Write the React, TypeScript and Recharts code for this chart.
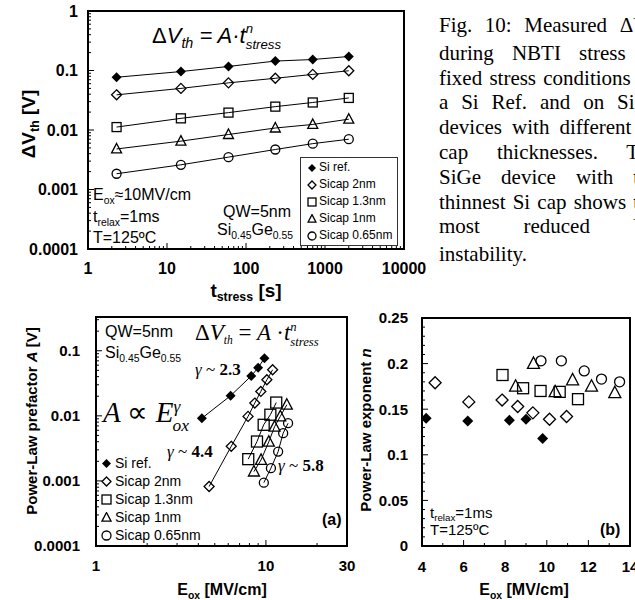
import React from 'react';
import { ScatterChart, Scatter, XAxis, YAxis, ReferenceArea } from 'recharts';

const SANS = '"Liberation Sans", Arial, sans-serif';
const SERIF = '"Liberation Serif", "Times New Roman", serif';

// top panel: dVth vs stress time
const tStress = [2.3, 15, 60, 235, 700, 2000];
const dvSiRef = [0.077, 0.096, 0.117, 0.144, 0.153, 0.172];
const dvCap2 = [0.039, 0.05, 0.062, 0.074, 0.086, 0.099];
const dvCap13 = [0.0112, 0.0157, 0.0196, 0.0247, 0.029, 0.0346];
const dvCap1 = [0.0048, 0.0065, 0.0084, 0.0108, 0.0124, 0.0152];
const dvCap065 = [0.00184, 0.0026, 0.0035, 0.0047, 0.0059, 0.007];

// panels (a) and (b): Eox, prefactor A, exponent n per device
const eSiRef = [4.2, 6.2, 8.2, 9.0, 9.8];
const aSiRef = [0.0092, 0.0204, 0.041, 0.055, 0.077];
const nSiRef = [0.14, 0.137, 0.138, 0.139, 0.118];
const eCap2 = [4.63, 6.25, 7.85, 8.6, 9.33, 10.13, 10.95];
const aCap2 = [0.00082, 0.0034, 0.0098, 0.0157, 0.0237, 0.0358, 0.051];
const nCap2 = [0.179, 0.158, 0.16, 0.153, 0.146, 0.139, 0.142];
const eCap13 = [7.87, 8.86, 9.7, 10.62, 11.5];
const aCap13 = [0.00216, 0.00403, 0.00728, 0.0104, 0.016];
const nCap13 = [0.1875, 0.173, 0.17, 0.169, 0.161];
const eCap1 = [8.5, 9.36, 10.4, 11.24, 12.15, 13.27];
const aCap1 = [0.00139, 0.0021, 0.004, 0.0068, 0.0098, 0.0148];
const nCap1 = [0.175, 0.2, 0.169, 0.182, 0.175, 0.168];
const eCap065 = [9.72, 10.7, 11.8, 12.63, 13.5];
const aCap065 = [0.00094, 0.00157, 0.00282, 0.00542, 0.0077];
const nCap065 = [0.203, 0.203, 0.192, 0.183, 0.18];

const seriesNames = ['Si ref.', 'Sicap 2nm', 'Sicap 1.3nm', 'Sicap 1nm', 'Sicap 0.65nm'];
const markKinds = ['diamondFill', 'diamond', 'square', 'triangle', 'circle'];

// tick labels
const topXTicks = [1, 10, 100, 1000, 10000];
const topYTicks = [0.0001, 0.001, 0.01, 0.1, 1];
const aXTicks = [1, 10, 30];
const aYTicks = [0.0001, 0.001, 0.01, 0.1];
const bXTicks = [4, 6, 8, 10, 12, 14];
const bYTicks = [0, 0.05, 0.1, 0.15, 0.2, 0.25];

const captionLines = [
  'Fig. 10: Measured \u0394V|th',
  'during NBTI stress at',
  'fixed stress conditions on',
  'a Si Ref. and on SiGe',
  'devices with different Si',
  'cap thicknesses. The',
  'SiGe device with the',
  'thinnest Si cap shows the',
  'most reduced V|th',
  'instability.',
];

const pts = (xs: number[], ys: number[]) => xs.map((x, i) => ({ x, y: ys[i] }));

const topSeries = [dvSiRef, dvCap2, dvCap13, dvCap1, dvCap065].map((ys) => pts(tStress, ys));
const aSeries = [
  pts(eSiRef, aSiRef), pts(eCap2, aCap2), pts(eCap13, aCap13), pts(eCap1, aCap1), pts(eCap065, aCap065),
];
const bSeries = [
  pts(eSiRef, nSiRef), pts(eCap2, nCap2), pts(eCap13, nCap13), pts(eCap1, nCap1), pts(eCap065, nCap065),
];

// all log ticks (1..9 per decade) between lo and hi
function logTicks(lo: number, hi: number) {
  const out: number[] = [];
  for (let d = lo; d <= hi * 1.0001; d *= 10) {
    for (let k = 1; k < 10; k++) if (d * k <= hi * 1.0001) out.push(d * k);
  }
  return out;
}
function linTicks(lo: number, hi: number, step: number) {
  const out: number[] = [];
  for (let i = 0; lo + i * step <= hi + 1e-9; i++) out.push(+(lo + i * step).toFixed(6));
  return out;
}
const isMajor = (v: number, majors: number[]) =>
  majors.some((m) => Math.abs(m - v) <= 1e-9 + 1e-6 * Math.abs(m));

function Mark({ cx, cy, kind, size }: any) {
  const h = size / 2;
  const sw = 1.3;
  if (cx == null || cy == null) return null;
  switch (kind) {
    case 'diamondFill':
      return <polygon points={`${cx},${cy - h} ${cx + h},${cy} ${cx},${cy + h} ${cx - h},${cy}`} fill="#000" />;
    case 'diamond':
      return <polygon points={`${cx},${cy - h} ${cx + h},${cy} ${cx},${cy + h} ${cx - h},${cy}`} fill="none" stroke="#000" strokeWidth={sw} />;
    case 'square':
      return <rect x={cx - h} y={cy - h} width={size} height={size} fill="none" stroke="#000" strokeWidth={sw} />;
    case 'triangle':
      return <polygon points={`${cx},${cy - size * 0.55} ${cx + h},${cy + size * 0.4} ${cx - h},${cy + size * 0.4}`} fill="none" stroke="#000" strokeWidth={sw} />;
    default:
      return <circle cx={cx} cy={cy} r={h} fill="none" stroke="#000" strokeWidth={sw} />;
  }
}

function XTick({ x, y, payload, majors, fs, off }: any) {
  const major = isMajor(payload.value, majors);
  return (
    <g>
      <line x1={x} x2={x} y1={y} y2={y - (major ? 6 : 3)} stroke="#000" strokeWidth={1} />
      {major && (
        <text x={x} y={y + off} textAnchor="middle" fontFamily={SANS} fontWeight="bold" fontSize={fs} fill="#000">
          {String(payload.value)}
        </text>
      )}
    </g>
  );
}

function YTick({ x, y, payload, majors, fs, off }: any) {
  const major = isMajor(payload.value, majors);
  return (
    <g>
      <line x1={x} x2={x + (major ? 6 : 3)} y1={y} y2={y} stroke="#000" strokeWidth={1} />
      {major && (
        <text x={x - off} y={y} dy="0.36em" textAnchor="end" fontFamily={SANS} fontWeight="bold" fontSize={fs} fill="#000">
          {String(payload.value)}
        </text>
      )}
    </g>
  );
}

const Sub = ({ children, size = 0.65, dy = 0.35 }: any) => (
  <span style={{ fontSize: `${size}em`, position: 'relative', top: `${dy}em` }}>{children}</span>
);
const Sup = ({ children, size = 0.65, dy = -0.75, ml = 0 }: any) => (
  <span style={{ fontSize: `${size}em`, position: 'relative', top: `${dy}em`, marginLeft: ml }}>{children}</span>
);

function Txt({ left, top, fs, children, family = SANS, style = {} }: any) {
  return (
    <div style={{ position: 'absolute', left, top, fontFamily: family, fontSize: fs, lineHeight: 1, whiteSpace: 'nowrap', ...style }}>
      {children}
    </div>
  );
}

function RotTitle({ cx, cy, fs, children }: any) {
  return (
    <div style={{
      position: 'absolute', left: cx, top: cy, transform: 'translate(-50%, -50%) rotate(-90deg)',
      fontFamily: SANS, fontWeight: 'bold', fontSize: fs, lineHeight: 1, whiteSpace: 'nowrap',
    }}>
      {children}
    </div>
  );
}

function CenterTitle({ cx, cy, fs, children }: any) {
  return (
    <div style={{
      position: 'absolute', left: cx, top: cy, transform: 'translate(-50%, -50%)',
      fontFamily: SANS, fontWeight: 'bold', fontSize: fs, lineHeight: 1, whiteSpace: 'nowrap',
    }}>
      {children}
    </div>
  );
}

function LegendList({ left, top, fs, rowH, mark, box, width, padL, gap }: any) {
  return (
    <div style={{
      position: 'absolute', left, top, width, boxSizing: 'border-box',
      border: box ? '1px solid #333' : 'none', padding: box ? `1px 0 1px ${padL}px` : 0,
      fontFamily: SANS, fontSize: fs, lineHeight: `${rowH}px`, whiteSpace: 'nowrap', background: box ? '#fff' : 'transparent',
    }}>
      {seriesNames.map((n, i) => (
        <div key={n} style={{ display: 'flex', alignItems: 'center', height: rowH }}>
          <svg width={mark + 2} height={mark + 2} style={{ marginRight: gap, flex: 'none' }}>
            <Mark cx={(mark + 2) / 2} cy={(mark + 2) / 2} kind={markKinds[i]} size={mark} />
          </svg>
          {n}
        </div>
      ))}
    </div>
  );
}

function Panel({ left, top, width, height, margin, yWidth, xHeight, xDomain, yDomain, logX, logY,
  xAll, yAll, xMajors, yMajors, fs, xOff, yOff, series, sizes, lines }: any) {
  return (
    <div style={{ position: 'absolute', left, top }}>
      <ScatterChart width={width} height={height} margin={margin}>
        <XAxis type="number" dataKey="x" scale={logX ? 'log' : 'linear'} domain={xDomain} allowDataOverflow
          ticks={xAll} interval={0} tickSize={0} tickMargin={0} axisLine={false} tickLine={false} height={xHeight}
          tick={(p: any) => <XTick {...p} majors={xMajors} fs={fs} off={xOff} />} />
        <YAxis type="number" dataKey="y" scale={logY ? 'log' : 'linear'} domain={yDomain} allowDataOverflow
          ticks={yAll} interval={0} tickSize={0} tickMargin={0} axisLine={false} tickLine={false} width={yWidth}
          tick={(p: any) => <YTick {...p} majors={yMajors} fs={fs} off={yOff} />} />
        <ReferenceArea x1={xDomain[0]} x2={xDomain[1]} y1={yDomain[0]} y2={yDomain[1]}
          fill="none" stroke="#000" strokeWidth={2} ifOverflow="visible" />
        {series.map((d: any, i: number) => (
          <Scatter key={seriesNames[i]} name={seriesNames[i]} data={d} isAnimationActive={false}
            line={lines ? { stroke: '#000', strokeWidth: 1 } : false} lineType="joint"
            shape={(p: any) => <Mark cx={p.cx} cy={p.cy} kind={markKinds[i]} size={sizes[i]} />} />
        ))}
      </ScatterChart>
    </div>
  );
}

export default function App() {
  return (
    <div style={{ position: 'absolute', left: 0, top: 0, width: 635, height: 600, background: '#fff', overflow: 'hidden', color: '#000' }}>
      {/* top panel */}
      <Panel left={0} top={0} width={440} height={300} margin={{ top: 11, right: 36, bottom: 0, left: 0 }}
        yWidth={88} xHeight={51} xDomain={[1, 10000]} yDomain={[0.0001, 1]} logX logY
        xAll={logTicks(1, 10000)} yAll={logTicks(0.0001, 1)} xMajors={topXTicks} yMajors={topYTicks}
        fs={16} xOff={25} yOff={10} series={topSeries} sizes={[10, 10, 9, 10, 9]} lines />
      <RotTitle cx={28} cy={124} fs={19}>{'\u0394'}V<Sub>th</Sub> [V]</RotTitle>
      <CenterTitle cx={246} cy={290} fs={19}>t<Sub>stress</Sub> [s]</CenterTitle>
      <Txt left={152} top={25} fs={22} style={{ fontStyle: 'italic' }}>
        <span style={{ fontStyle: 'normal' }}>{'\u0394'}</span>V<Sub>th</Sub> = A{'\u00b7'}t<Sup size={0.6}>n</Sup><Sub size={0.6} dy={0.45}><span style={{ marginLeft: '-0.55em' }}>stress</span></Sub>
      </Txt>
      <Txt left={93} top={187} fs={16}>E<Sub>ox</Sub>{'\u224810'}MV/cm</Txt>
      <Txt left={93} top={209} fs={16}>t<Sub>relax</Sub>=1ms</Txt>
      <Txt left={93} top={230} fs={16}>T=125ºC</Txt>
      <Txt left={223} top={204} fs={16}>QW=5nm</Txt>
      <Txt left={217} top={222} fs={16}>Si<Sub>0.45</Sub>Ge<Sub>0.55</Sub></Txt>
      <LegendList left={300} top={157} width={98} fs={12} rowH={17} mark={8} box padL={6} gap={2} />

      {/* panel (a) */}
      <Panel left={0} top={300} width={360} height={300} margin={{ top: 17, right: 13, bottom: 0, left: 0 }}
        yWidth={96} xHeight={54} xDomain={[1, 30]} yDomain={[0.0001, 0.33]} logX logY
        xAll={logTicks(1, 30)} yAll={logTicks(0.0001, 0.33)} xMajors={aXTicks} yMajors={aYTicks}
        fs={15} xOff={25} yOff={16} series={aSeries} sizes={[10, 10, 11, 11, 9]} lines />
      <RotTitle cx={31} cy={421} fs={15}>Power-Law prefactor <i>A</i> [V]</RotTitle>
      <CenterTitle cx={222} cy={590} fs={16}>E<Sub>ox</Sub> [MV/cm]</CenterTitle>
      <Txt left={105} top={324} fs={16}>QW=5nm</Txt>
      <Txt left={105} top={345} fs={16}>Si<Sub>0.45</Sub>Ge<Sub>0.55</Sub></Txt>
      <Txt left={195} top={321} fs={23} family={SERIF} style={{ fontStyle: 'italic' }}>
        <span style={{ fontStyle: 'normal' }}>{'\u0394'}</span>V<Sub size={0.5}>th</Sub>{' '}<span style={{ fontStyle: 'normal' }}>=</span>{' '}A{' '}<span style={{ fontStyle: 'normal' }}>{'\u00b7'}</span>t<Sup size={0.55}>n</Sup><Sub size={0.55} dy={0.5}><span style={{ marginLeft: '-0.5em' }}>stress</span></Sub>
      </Txt>
      <Txt left={195} top={361} fs={17} family={SERIF}><i>{'\u03b3'}</i> ~ <b>2.3</b></Txt>
      <Txt left={103} top={398} fs={29} family={SERIF} style={{ fontStyle: 'italic' }}>
        A <span style={{ fontStyle: 'normal' }}>{'\u221d'}</span> E<Sup size={0.6} dy={-0.6}>{'\u03b3'}</Sup><Sub size={0.6} dy={0.5}><span style={{ marginLeft: '-0.45em' }}>ox</span></Sub>
      </Txt>
      <Txt left={167} top={443} fs={17} family={SERIF}><i>{'\u03b3'}</i> ~ <b>4.4</b></Txt>
      <Txt left={278} top={457} fs={17} family={SERIF}><i>{'\u03b3'}</i> ~ <b>5.8</b></Txt>
      <LegendList left={101} top={454} fs={14} rowH={18} mark={9} padL={0} gap={3} />
      <Txt left={322} top={512} fs={16} style={{ fontWeight: 'bold' }}>(a)</Txt>

      {/* panel (b) */}
      <Panel left={360} top={300} width={275} height={300} margin={{ top: 18, right: 5, bottom: 0, left: 0 }}
        yWidth={62} xHeight={54} xDomain={[4, 14]} yDomain={[0, 0.25]}
        xAll={linTicks(4, 14, 1)} yAll={linTicks(0, 0.25, 0.01)} xMajors={bXTicks} yMajors={bYTicks}
        fs={15} xOff={26} yOff={14} series={bSeries} sizes={[11, 12, 11, 12, 10]} lines={false} />
      <RotTitle cx={365} cy={430} fs={15}>Power-Law exponent <i>n</i></RotTitle>
      <CenterTitle cx={524} cy={590} fs={16}>E<Sub>ox</Sub> [MV/cm]</CenterTitle>
      <Txt left={430} top={505} fs={15}>t<Sub>relax</Sub>=1ms</Txt>
      <Txt left={430} top={522} fs={15}>T=125ºC</Txt>
      <Txt left={600} top={522} fs={16} style={{ fontWeight: 'bold' }}>(b)</Txt>

      {/* caption */}
      <div style={{ position: 'absolute', left: 439, top: 13, width: 196, height: 270, overflow: 'hidden' }}>
        <div style={{ width: 220, fontFamily: SERIF, fontSize: 21, lineHeight: '24.8px' }}>
          {captionLines.map((l, i) => {
            const [main, sub] = l.split('|');
            return (
              <div key={i} style={{ textAlign: 'justify', textAlignLast: i < captionLines.length - 1 ? 'justify' : 'left', whiteSpace: 'normal' }}>
                {main}{sub && <Sub size={0.65} dy={0.3}>{sub}</Sub>}
              </div>
            );
          })}
        </div>
      </div>
    </div>
  );
}
